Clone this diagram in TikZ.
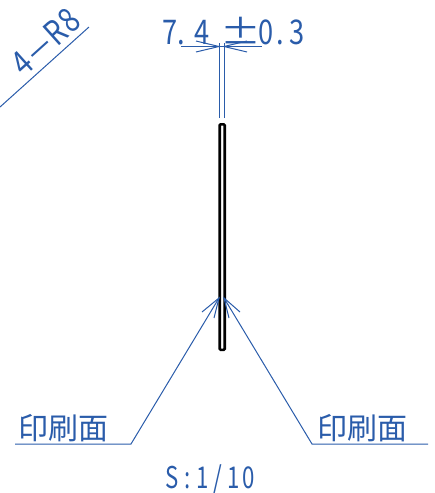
\documentclass[tikz,border=0pt]{standalone}
\usepackage{fontspec}
\newfontfamily\jpfont{Noto Sans CJK JP}
\definecolor{dimblue}{HTML}{2A5CAA}
\newcommand{\cellW}[2]{\makebox[#1pt][c]{\scalebox{0.8}[1]{#2}}}
\newcommand{\cellB}[1]{\makebox[15.4pt][c]{\scalebox{0.74}[1]{#1}}}
\newcommand{\cellC}[1]{\makebox[18pt][c]{\scalebox{0.82}[1]{#1}}}
\tikzset{
  dimline/.style={draw=dimblue,line width=1pt},
  lbl/.style={text=dimblue,inner sep=0pt,font=\jpfont},
  plate/.style={draw=black,line width=2.6pt,rounded corners=1pt}
}
\begin{document}
\begin{tikzpicture}[x=1pt,y=-1pt]
\useasboundingbox (0,0) rectangle (435,493);
% plate
\node[plate,minimum width=5pt,minimum height=225.5pt,inner sep=0pt,anchor=north west] (pl) at (218.4,123) {};
% width dimension
\coordinate (dl) at (219,118);
\coordinate (dr) at (224,118);
\coordinate (dlt) at (219,43);
\coordinate (drt) at (224,43);
\draw[dimline] (dl) -- (dlt);
\draw[dimline] (dr) -- (drt);
\coordinate (h1) at (181,46.5);
\coordinate (h2) at (262,46.5);
\draw[dimline] (h1) -- (h2);
\coordinate (ta) at (219,46.5);
\coordinate (tb) at (224,46.5);
\coordinate (a1) at (196,41);
\coordinate (a2) at (196,52);
\coordinate (a3) at (247,41);
\coordinate (a4) at (247,52);
\draw[dimline] (a1) -- (ta) -- (a2);
\draw[dimline] (a3) -- (tb) -- (a4);
\node[lbl,font=\jpfont\fontsize{34}{34}\selectfont,anchor=base west] (dimtext) at (162,44) {\cellW{16}{7}\cellW{6}{.}\cellW{36}{4}\makebox[42pt][c]{\scalebox{1.2}[1]{±}}\hspace{-4pt}\cellW{16}{0}\cellW{12}{.}\cellW{22}{3}};
% R label
\coordinate (r1) at (0,107);
\coordinate (r2) at (89,27);
\draw[dimline] (r1) -- (r2);
\node[lbl,font=\jpfont\fontsize{34}{34}\selectfont,rotate=42,anchor=center] (rtext) at (45.5,41.5) {\cellC{4}\hspace{2pt}\scalebox{0.8}[1]{—}\hspace{2pt}\cellC{R}\cellC{8}};
% leaders
\coordinate (tl) at (219,298);
\coordinate (tr) at (224,298);
\coordinate (bl1) at (202,312);
\coordinate (bl2) at (214,318);
\coordinate (br1) at (240,312);
\coordinate (br2) at (229,318);
\coordinate (kl) at (131,444);
\coordinate (kr) at (312,444);
\coordinate (el) at (15,444);
\coordinate (er) at (428,444);
\draw[dimline] (el) -- (kl) -- (tl);
\draw[dimline] (er) -- (kr) -- (tr);
\draw[dimline] (bl1) -- (tl) -- (bl2);
\draw[dimline] (br1) -- (tr) -- (br2);
\node[lbl,font=\jpfont\fontsize{30}{30}\selectfont,anchor=base west] (pl1) at (18,439) {印刷面};
\node[lbl,font=\jpfont\fontsize{30}{30}\selectfont,anchor=base west] (pl2) at (317,439) {印刷面};
\node[lbl,font=\jpfont\fontsize{30}{30}\selectfont,anchor=base west] (scale) at (164,488) {\cellB{S}\cellB{:}\cellB{1}\cellB{/}\cellB{1}\cellB{0}};
\end{tikzpicture}
\end{document}
